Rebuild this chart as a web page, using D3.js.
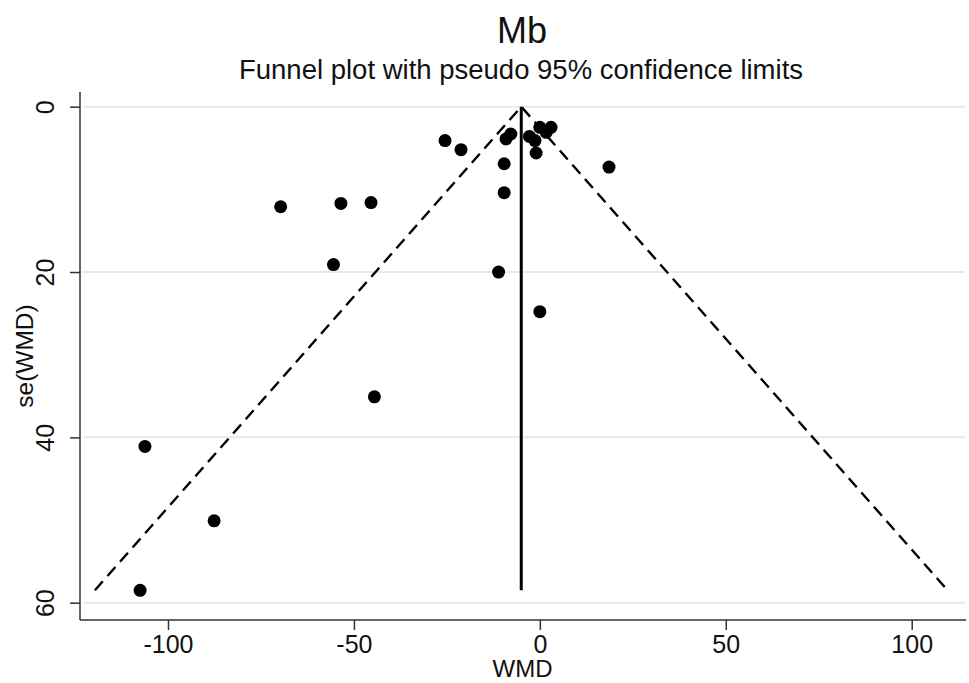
<!DOCTYPE html>
<html>
<head>
<meta charset="utf-8">
<script src="https://cdn.jsdelivr.net/npm/d3@7"></script>
<style>
  html, body { margin: 0; padding: 0; background: #fff; }
  svg { display: block; font-family: "Liberation Sans", Arial, sans-serif; }
</style>
</head>
<body>
<svg id="chart" width="969" height="683"></svg>
<script>
// ---- Data ----
const studyWMD = [-106.2, -87.6, -107.5, -44.5, -69.7, -53.5, -45.4, -9.6, -55.5, -11.1, 0.0,
                  -25.5, -21.2, -9.6, 18.6, -9.1, -7.8, -2.8, -1.0, -1.3, 0.0, 1.7, 3.0];
const studySE  = [41.1, 50.1, 58.5, 35.1, 12.1, 11.7, 11.6, 10.4, 19.1, 20.0, 24.8,
                  4.1, 5.2, 6.9, 7.3, 3.9, 3.3, 3.6, 5.6, 4.1, 2.5, 3.1, 2.5];
const pooledWMD = -5.0;
const maxSE = 58.5;
const xTicks = [-100, -50, 0, 50, 100];
const yTicks = [0, 20, 40, 60];
const titleText = "Mb";
const subtitleText = "Funnel plot with pseudo 95% confidence limits";
const xTitle = "WMD";
const yTitle = "se(WMD)";

// ---- Scales ----
const svg = d3.select("#chart");
const x = d3.scaleLinear().domain([-100, 100]).range([168, 911.7]);
const y = d3.scaleLinear().domain([0, 60]).range([106.7, 602.7]);
const plotLeft = 80, plotRight = 966, plotTop = 92, plotBottom = 620;

// ---- Gridlines ----
svg.append("g").selectAll("line").data(yTicks).join("line")
  .attr("x1", plotLeft + 2).attr("x2", plotRight - 1)
  .attr("y1", d => y(d)).attr("y2", d => y(d))
  .attr("stroke", "#e2ebee").attr("stroke-width", 2);

// ---- Funnel lines ----
const lo = pooledWMD - 1.96 * maxSE, hi = pooledWMD + 1.96 * maxSE;
const line = d3.line().x(d => x(d[0])).y(d => y(d[1]));
svg.append("path").attr("d", line([[lo, maxSE], [pooledWMD, 0], [hi, maxSE]]))
  .attr("fill", "none").attr("stroke", "#000").attr("stroke-width", 2.4)
  .attr("stroke-dasharray", "12,7");
svg.append("path").attr("d", line([[pooledWMD, 0], [pooledWMD, maxSE]]))
  .attr("fill", "none").attr("stroke", "#000").attr("stroke-width", 3);

// ---- Points ----
svg.append("g").selectAll("circle").data(studyWMD.map((w, i) => [w, studySE[i]])).join("circle")
  .attr("cx", d => x(d[0])).attr("cy", d => y(d[1])).attr("r", 6.5).attr("fill", "#000");

// ---- Axes ----
const xAxis = svg.append("g").attr("transform", `translate(0,${plotBottom})`)
  .call(d3.axisBottom(x).tickValues(xTicks).tickSize(10).tickPadding(5).tickSizeOuter(0)
        .tickFormat(d3.format("d")));
xAxis.select(".domain").attr("d", `M${plotLeft},0H${plotRight}`);
xAxis.selectAll("line").attr("stroke", "#333").attr("stroke-width", 1.5);
xAxis.select(".domain").attr("stroke", "#333").attr("stroke-width", 1.5);
xAxis.selectAll("text").attr("font-size", 25).attr("fill", "#111")
  .attr("font-family", "Liberation Sans, Arial, sans-serif")
  .text(d => d < 0 ? "-" + Math.abs(d) : d);

const yAxis = svg.append("g").attr("transform", `translate(${plotLeft},0)`)
  .call(d3.axisLeft(y).tickValues(yTicks).tickSize(10).tickSizeOuter(0).tickFormat(d3.format("d")));
yAxis.select(".domain").attr("d", `M0,${plotTop}V${plotBottom}`)
  .attr("stroke", "#333").attr("stroke-width", 1.5);
yAxis.selectAll("line").attr("stroke", "#333").attr("stroke-width", 1.5);
yAxis.selectAll("text").attr("font-size", 25).attr("fill", "#111")
  .attr("font-family", "Liberation Sans, Arial, sans-serif")
  .attr("transform", "rotate(-90)")
  .attr("x", 0).attr("y", -26.5).attr("dy", 0)
  .attr("text-anchor", "middle");

// ---- Titles ----
svg.append("text").attr("x", 522).attr("y", 43).attr("text-anchor", "middle")
  .attr("font-size", 36).attr("fill", "#111").text(titleText);
svg.append("text").attr("x", 521).attr("y", 79).attr("text-anchor", "middle")
  .attr("font-size", 27.5).attr("fill", "#111").text(subtitleText);
svg.append("text").attr("x", 522.5).attr("y", 677).attr("text-anchor", "middle")
  .attr("font-size", 24).attr("fill", "#111").text(xTitle);
svg.append("text").attr("transform", "translate(33,356) rotate(-90)").attr("text-anchor", "middle")
  .attr("font-size", 24.5).attr("fill", "#111").text(yTitle);
</script>
</body>
</html>
